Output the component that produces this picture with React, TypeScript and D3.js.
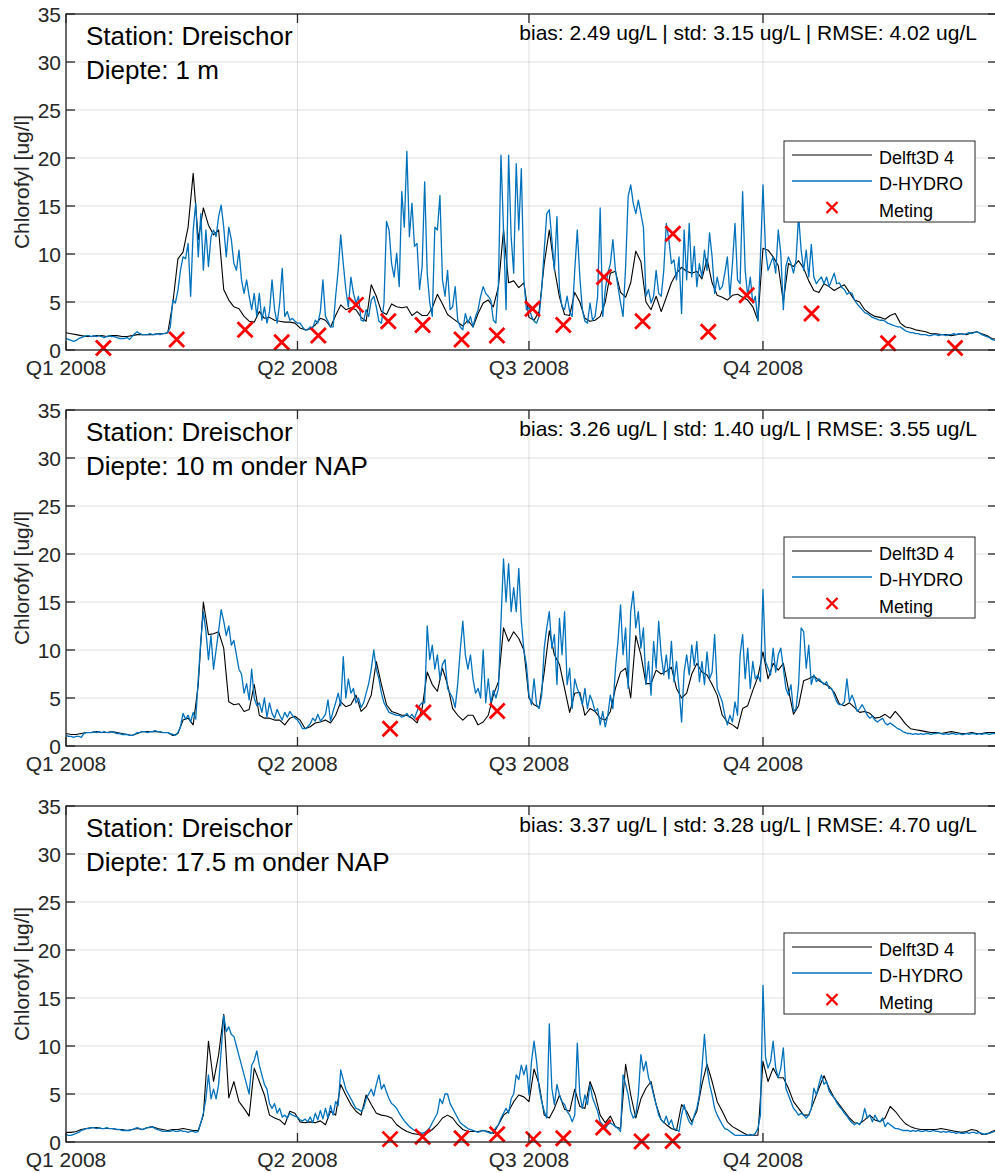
import React from "react";
import * as d3 from "d3";

// ---------- text ----------
const stationLabel = "Station: Dreischor";
const depthLabels = ["Diepte: 1 m", "Diepte: 10 m onder NAP", "Diepte: 17.5 m onder NAP"];
const statLabels = [
  "bias: 2.49 ug/L | std: 3.15 ug/L | RMSE: 4.02 ug/L",
  "bias: 3.26 ug/L | std: 1.40 ug/L | RMSE: 3.55 ug/L",
  "bias: 3.37 ug/L | std: 3.28 ug/L | RMSE: 4.70 ug/L",
];
const yAxisLabel = "Chlorofyl [ug/l]";
const seriesNames = ["Delft3D 4", "D-HYDRO", "Meting"];
const quarterLabels = ["Q1 2008", "Q2 2008", "Q3 2008", "Q4 2008"];
const quarterMonths = [0, 3, 6, 9];
const yTicks = [0, 5, 10, 15, 20, 25, 30, 35];

// ---------- data ----------
// Delft3D 4: one value every 2 days from 2008-01-01 (days 0,2,...,366)
const delft1 = [
  1.8, 1.7, 1.6, 1.5, 1.4, 1.4, 1.5, 1.5, 1.4, 1.5,
  1.5, 1.4, 1.4, 1.5, 1.6, 1.6, 1.6, 1.6, 1.7, 1.7,
  1.8, 4.9, 9.5, 10.2, 12.8, 18.4, 11.5, 14.8, 13.0, 12.0,
  12.5, 6.3, 5.2, 4.5, 4.3, 3.5, 3.0, 2.9, 4.0, 3.3,
  3.4, 3.1, 3.0, 2.9, 2.9, 2.8, 2.3, 2.1, 2.2, 2.6,
  3.3, 3.1, 2.4, 3.6, 4.7, 4.2, 4.4, 4.2, 3.4, 3.0,
  6.8, 5.6, 4.0, 3.7, 4.8, 4.5, 4.4, 4.5, 3.6, 4.0,
  3.6, 3.6, 4.4, 5.8, 4.8, 3.7, 3.3, 2.9, 2.5, 3.1,
  2.4, 3.8, 4.9, 5.2, 4.5, 6.6, 12.5, 7.0, 7.2, 6.5,
  7.0, 3.4, 3.1, 4.0, 9.0, 12.5, 8.5, 5.5, 3.7, 3.6,
  6.0, 5.0, 3.3, 3.0, 3.1, 3.5, 5.0, 8.0, 8.2, 6.0,
  5.5, 7.0, 10.3, 9.2, 5.0, 4.2, 5.6, 4.0, 5.5, 7.0,
  8.0, 8.6, 8.2, 8.0, 8.2, 7.4, 9.5, 7.0, 5.7, 5.5,
  5.2, 5.7, 5.8, 5.5, 5.2, 4.5, 3.1, 10.6, 10.4, 9.7,
  8.8, 5.0, 9.0, 8.7, 9.3, 8.5, 7.2, 6.2, 6.0, 6.9,
  6.6, 6.2, 6.5, 6.8, 6.0, 5.2, 5.0, 4.2, 3.8, 3.5,
  3.4, 3.2, 3.6, 3.8, 2.8, 2.4, 2.3, 2.1, 2.0, 1.9,
  1.7, 1.7, 1.6, 1.6, 1.5, 1.6, 1.7, 1.6, 1.8, 1.9,
  1.7, 1.5, 1.2, 1.1,
];
// D-HYDRO: one value per day from 2008-01-01 (days 0..366)
const dhydro1 = [
  1.2, 1.1, 1.0, 0.9, 1.0, 1.2, 1.3, 1.4, 1.5, 1.5,
  1.4, 1.5, 1.4, 1.5, 1.4, 1.3, 1.4, 1.5, 1.4, 1.4,
  1.3, 1.2, 1.2, 1.2, 1.3, 1.1, 1.4, 1.7, 1.9, 1.7,
  1.6, 1.6, 1.6, 1.7, 1.6, 1.6, 1.7, 1.6, 1.7, 1.7,
  1.8, 2.4, 5.2, 4.9, 6.2, 8.3, 9.7, 9.5, 11.1, 5.6,
  12.5, 15.3, 9.7, 14.2, 8.3, 12.5, 8.7, 11.8, 12.5, 11.8,
  13.9, 15.1, 12.8, 9.7, 12.8, 11.5, 9.0, 8.3, 10.4, 7.3,
  5.9, 7.3, 5.6, 4.2, 5.9, 3.5, 5.9, 3.1, 4.5, 2.8,
  4.0, 7.3, 4.2, 2.8, 4.9, 8.5, 3.5, 4.0, 3.1, 3.3,
  3.0, 2.8, 2.8, 2.4, 2.1, 2.1, 2.4, 2.3, 3.1, 2.8,
  4.0, 7.3, 3.5, 3.0, 2.4, 2.4, 5.6, 8.3, 12.0, 9.0,
  6.3, 4.5, 7.6, 5.9, 4.9, 5.6, 3.1, 3.0, 4.2, 3.5,
  5.2, 5.6, 4.5, 3.0, 2.8, 4.9, 13.4, 12.5, 9.0, 7.6,
  10.1, 6.6, 16.5, 12.8, 20.7, 11.8, 15.3, 10.8, 11.1, 6.3,
  8.7, 17.5, 8.0, 4.9, 3.5, 12.8, 12.5, 16.1, 7.3, 5.6,
  8.3, 4.2, 4.5, 6.6, 3.1, 2.4, 2.1, 3.8, 2.8, 3.5,
  2.4, 3.5, 4.2, 5.6, 6.6, 5.9, 5.6, 5.2, 3.1, 2.8,
  6.9, 20.3, 12.5, 4.2, 20.3, 11.8, 8.0, 19.4, 12.5, 18.9,
  7.3, 4.2, 4.5, 3.5, 3.0, 2.8, 3.5, 6.3, 10.4, 14.2,
  14.6, 11.5, 8.3, 13.9, 6.3, 4.5, 4.2, 5.6, 4.0, 3.5,
  8.3, 12.5, 7.6, 4.2, 3.0, 2.8, 4.9, 3.1, 3.5, 5.6,
  14.8, 3.5, 6.3, 8.0, 9.0, 11.5, 8.3, 6.6, 4.9, 3.5,
  8.7, 16.0, 17.2, 15.3, 14.2, 15.6, 14.2, 12.8, 5.6, 6.3,
  4.9, 5.6, 8.3, 5.9, 5.6, 8.3, 13.2, 11.5, 9.0, 9.4,
  7.3, 9.7, 3.8, 12.5, 7.3, 13.2, 7.6, 10.8, 6.6, 9.0,
  7.6, 10.4, 8.3, 12.2, 9.7, 5.9, 7.6, 6.3, 6.6, 8.0,
  9.7, 5.6, 9.0, 13.2, 7.3, 6.9, 16.5, 8.3, 5.6, 7.6,
  4.9, 5.6, 3.0, 9.7, 17.2, 10.4, 8.3, 9.0, 9.7, 8.0,
  12.5, 10.1, 4.2, 8.7, 9.7, 9.0, 8.0, 9.4, 14.0, 10.4,
  8.3, 10.4, 7.6, 11.0, 7.6, 6.9, 7.3, 7.6, 6.9, 7.6,
  6.6, 7.3, 8.0, 6.9, 7.0, 6.5, 6.3, 5.8, 6.0, 5.9,
  5.2, 4.8, 4.5, 4.2, 3.9, 3.8, 3.6, 3.4, 3.3, 3.2,
  3.1, 3.1, 3.0, 2.8, 2.7, 2.6, 2.5, 2.4, 2.4, 2.2,
  2.0, 1.9, 1.8, 1.8, 1.7, 1.7, 1.6, 1.6, 1.6, 1.5,
  1.5, 1.6, 1.6, 1.5, 1.6, 1.6, 1.5, 1.6, 1.6, 1.7,
  1.6, 1.7, 1.7, 1.6, 1.7, 1.8, 1.7, 1.8, 1.9, 1.8,
  1.6, 1.5, 1.4, 1.3, 1.1, 1.0, 1.0,
];
const metingDays1 = [14.7, 43.5, 70.4, 84.8, 99.2, 114.0, 126.7, 140.2, 155.5, 169.4, 183.4, 195.5, 211.5, 226.7, 238.6, 252.5, 267.6, 293.1, 323.2, 349.5];
const metingVals1 = [0.2, 1.1, 2.1, 0.8, 1.5, 4.7, 3.0, 2.6, 1.1, 1.5, 4.3, 2.6, 7.6, 3.0, 12.1, 1.9, 5.7, 3.8, 0.7, 0.2];

const delft2 = [
  1.3, 1.2, 1.2, 1.3, 1.4, 1.4, 1.5, 1.4, 1.4, 1.5,
  1.4, 1.3, 1.2, 1.1, 1.3, 1.5, 1.5, 1.5, 1.5, 1.4,
  1.4, 1.1, 1.3, 2.7, 2.9, 2.2, 6.4, 15.0, 11.6, 11.7,
  11.9, 10.2, 4.6, 4.3, 4.4, 3.6, 3.8, 6.4, 3.2, 2.9,
  2.9, 2.7, 2.7, 2.2, 2.9, 3.1, 2.7, 1.8, 2.0, 2.4,
  2.5, 2.7, 2.4, 3.2, 4.6, 4.1, 4.3, 5.3, 3.6, 4.1,
  5.3, 8.8, 6.4, 4.3, 3.6, 3.4, 3.2, 3.2, 2.9, 2.4,
  3.9, 7.7, 6.4, 5.7, 8.1, 6.4, 3.9, 3.2, 2.7, 3.2,
  3.2, 2.2, 2.5, 3.2, 5.3, 6.7, 12.3, 10.9, 11.9, 11.2,
  10.0, 5.0, 4.3, 4.0, 7.7, 12.0, 9.5, 8.5, 6.0, 3.5,
  5.5, 5.6, 3.2, 3.9, 3.6, 2.9, 2.7, 3.6, 6.0, 7.7,
  8.1, 5.0, 11.5, 9.5, 6.5, 6.5, 7.9, 7.5, 7.8, 8.2,
  6.0, 5.0, 5.5, 7.5, 8.6, 7.7, 7.4, 6.4, 5.3, 3.2,
  2.5, 2.2, 1.8, 3.9, 4.2, 5.8, 7.2, 9.8, 7.0, 8.6,
  7.9, 8.6, 5.9, 3.3, 4.2, 6.8, 7.0, 7.3, 6.8, 6.5,
  6.2, 5.6, 4.4, 4.2, 4.5, 4.0, 3.5, 3.6, 3.4, 2.9,
  3.0, 3.3, 2.9, 3.6, 3.0, 2.3, 1.8, 1.7, 1.6, 1.5,
  1.4, 1.4, 1.3, 1.4, 1.5, 1.4, 1.3, 1.3, 1.4, 1.3,
  1.3, 1.4, 1.4, 1.4,
];
const dhydro2 = [
  1.1, 1.0, 1.0, 0.9, 1.0, 1.0, 0.9, 1.3, 1.4, 1.4,
  1.4, 1.5, 1.4, 1.5, 1.4, 1.5, 1.4, 1.4, 1.5, 1.4,
  1.3, 1.3, 1.2, 1.2, 1.2, 1.1, 1.1, 1.2, 1.4, 1.4,
  1.5, 1.5, 1.4, 1.5, 1.5, 1.6, 1.5, 1.5, 1.4, 1.4,
  1.4, 1.3, 1.2, 1.1, 1.4, 2.0, 3.4, 2.8, 3.2, 2.5,
  3.5, 2.8, 7.0, 11.0, 14.0, 12.0, 9.0, 11.5, 8.0, 10.0,
  12.0, 14.2, 13.0, 11.5, 12.5, 10.5, 11.0, 9.5, 8.0, 7.5,
  5.5, 6.5, 4.8, 8.0, 5.0, 4.2, 4.5, 3.5, 5.0, 3.0,
  4.5, 3.4, 2.9, 3.8, 3.2, 2.7, 3.5, 3.0, 3.6, 3.2,
  2.9, 2.7, 2.3, 1.8, 1.8, 2.0, 2.3, 2.9, 2.6, 3.3,
  2.6, 2.9, 3.3, 4.8, 2.6, 3.6, 4.5, 5.5, 4.2, 9.3,
  5.0, 7.0, 5.5, 6.0, 4.5, 5.0, 4.0, 4.5, 5.5, 6.5,
  8.0, 10.0, 8.0, 7.0, 5.5, 4.5, 4.0, 3.5, 3.4, 3.3,
  3.2, 3.2, 3.0, 3.1, 3.4, 3.0, 3.3, 2.9, 3.6, 4.2,
  4.5, 4.5, 12.5, 9.0, 10.5, 8.0, 9.5, 7.0, 8.5, 9.0,
  6.0, 5.5, 5.0, 4.0, 6.5, 10.0, 13.0, 9.5, 8.0, 9.5,
  7.0, 5.5, 6.0, 5.0, 10.0, 4.5, 7.0, 4.5, 5.8, 5.0,
  6.0, 13.0, 19.5, 15.0, 19.0, 14.0, 16.5, 14.0, 18.5, 13.0,
  10.0, 8.5, 5.3, 4.3, 7.0, 4.3, 3.9, 5.3, 10.2, 12.3,
  14.0, 10.2, 11.6, 6.4, 13.3, 9.5, 14.0, 6.4, 8.1, 3.9,
  7.0, 6.0, 5.3, 4.3, 6.0, 3.9, 5.3, 4.6, 3.6, 3.9,
  2.2, 3.6, 2.0, 3.2, 5.3, 3.9, 8.1, 10.9, 14.7, 9.5,
  12.3, 6.0, 14.0, 16.1, 12.3, 14.0, 10.2, 12.3, 6.4, 8.8,
  5.3, 10.9, 8.1, 13.0, 9.5, 7.4, 9.5, 7.0, 10.9, 6.7,
  8.8, 6.0, 2.5, 7.7, 9.5, 7.4, 10.5, 8.4, 10.9, 6.7,
  8.8, 6.4, 9.8, 7.0, 7.7, 11.6, 6.0, 5.3, 4.6, 3.2,
  2.2, 3.2, 2.5, 4.6, 3.2, 9.5, 11.6, 7.0, 10.2, 6.0,
  8.8, 7.0, 7.4, 6.7, 16.3, 8.8, 8.1, 7.4, 10.2, 7.7,
  9.5, 10.2, 8.1, 6.0, 5.3, 6.4, 3.6, 3.9, 6.4, 12.3,
  11.9, 8.1, 10.5, 6.4, 7.4, 6.7, 7.0, 6.7, 6.4, 6.7,
  6.0, 6.0, 5.3, 4.6, 4.3, 4.3, 4.6, 7.0, 4.6, 5.3,
  4.6, 3.6, 3.9, 4.3, 3.8, 3.2, 2.9, 3.1, 2.7, 2.5,
  2.7, 2.9, 2.4, 2.2, 2.4, 2.2, 2.0, 1.8, 1.7, 1.5,
  1.4, 1.3, 1.3, 1.2, 1.3, 1.2, 1.3, 1.2, 1.3, 1.3,
  1.2, 1.3, 1.3, 1.4, 1.3, 1.2, 1.3, 1.2, 1.3, 1.3,
  1.2, 1.3, 1.2, 1.2, 1.3, 1.2, 1.3, 1.3, 1.2, 1.3,
  1.2, 1.3, 1.3, 1.2, 1.3, 1.3, 1.3,
];
const metingDays2 = [127.4, 140.5, 169.5];
const metingVals2 = [1.8, 3.5, 3.65];

const delft3 = [
  1.0, 1.0, 1.1, 1.3, 1.4, 1.5, 1.5, 1.4, 1.4, 1.4,
  1.3, 1.3, 1.2, 1.3, 1.4, 1.3, 1.5, 1.6, 1.4, 1.3,
  1.2, 1.3, 1.3, 1.4, 1.3, 1.2, 1.2, 2.8, 10.5, 6.3,
  9.1, 13.3, 4.6, 6.3, 4.2, 3.5, 2.7, 7.7, 6.3, 4.9,
  2.8, 2.5, 2.3, 1.8, 3.2, 3.0, 2.1, 2.0, 2.1, 2.0,
  2.2, 1.8, 3.2, 2.8, 6.0, 4.9, 3.9, 3.2, 2.8, 4.9,
  3.9, 3.0, 2.8, 2.7, 2.5, 1.8, 1.4, 1.1, 0.9, 0.8,
  0.7, 0.9, 1.3, 1.8, 2.5, 2.8, 2.5, 1.8, 1.3, 1.1,
  1.1, 1.1, 1.2, 1.1, 0.9, 1.8, 2.8, 3.2, 4.2, 4.9,
  4.7, 4.2, 7.6, 6.0, 2.8, 2.5, 3.5, 4.9, 3.4, 3.2,
  5.5, 3.7, 3.5, 6.3, 4.9, 2.8, 2.0, 2.7, 1.6, 1.4,
  8.1, 4.9, 2.5, 4.5, 5.6, 6.3, 3.9, 2.3, 1.8, 1.4,
  1.2, 3.9, 3.2, 2.1, 3.2, 6.0, 8.1, 6.3, 4.2, 3.2,
  2.1, 1.6, 1.3, 1.0, 0.7, 0.7, 0.7, 8.4, 6.3, 7.7,
  6.7, 6.7, 5.6, 4.2, 3.5, 2.8, 2.8, 4.2, 5.6, 6.9,
  5.6, 4.6, 3.9, 3.2, 2.5, 2.0, 1.9, 2.3, 2.8, 2.3,
  2.1, 2.5, 3.7, 3.2, 2.5, 1.9, 1.6, 1.4, 1.3, 1.3,
  1.3, 1.3, 1.4, 1.3, 1.2, 1.1, 1.0, 1.1, 1.3, 1.2,
  0.8, 0.8, 1.1, 1.3,
];
const dhydro3 = [
  0.8, 0.7, 0.7, 0.8, 0.9, 1.0, 1.2, 1.3, 1.4, 1.4,
  1.5, 1.5, 1.4, 1.5, 1.4, 1.4, 1.5, 1.4, 1.4, 1.4,
  1.3, 1.3, 1.2, 1.2, 1.2, 1.2, 1.3, 1.4, 1.5, 1.4,
  1.3, 1.4, 1.5, 1.5, 1.6, 1.4, 1.3, 1.2, 1.1, 1.1,
  1.1, 1.1, 1.2, 1.1, 1.1, 1.2, 1.1, 1.1, 1.0, 1.1,
  1.1, 1.0, 1.1, 2.0, 3.0, 4.5, 7.0, 4.5, 5.5, 4.5,
  6.0, 9.5, 13.2, 11.5, 12.0, 11.2, 11.0, 10.0, 9.0, 8.0,
  7.0, 6.0, 5.0, 8.0, 8.5, 9.5, 8.0, 7.0, 6.0, 5.5,
  4.0, 3.5, 4.0, 3.0, 3.5, 2.6, 2.8, 2.5, 3.0, 2.8,
  2.7, 2.6, 2.3, 2.2, 2.4, 2.1, 2.6, 2.0, 3.0, 2.3,
  3.3, 2.4, 3.5, 2.5, 3.8, 2.8, 4.2, 3.8, 7.5, 6.5,
  5.5, 5.0, 4.5, 4.0, 3.5, 3.4, 3.2, 3.5, 4.5, 5.0,
  5.5, 4.8, 6.0, 7.0, 5.5, 6.0, 5.2, 4.5, 4.0, 3.8,
  3.5, 3.0, 2.6, 2.2, 1.9, 1.6, 1.4, 1.2, 1.1, 1.0,
  0.9, 1.0, 1.2, 1.5, 2.0, 2.5, 3.0, 4.5, 4.0, 5.0,
  5.0, 4.0, 3.5, 3.0, 2.5, 2.0, 1.8, 1.6, 1.4, 1.3,
  1.2, 1.1, 1.0, 1.1, 1.2, 1.1, 1.0, 0.9, 1.1, 1.5,
  1.8, 2.5, 3.0, 3.5, 3.0, 4.5, 5.0, 7.0, 6.5, 8.0,
  7.0, 8.0, 4.9, 8.4, 10.5, 8.4, 5.6, 4.2, 3.2, 2.5,
  12.3, 5.6, 3.9, 6.0, 4.9, 4.2, 3.9, 3.2, 2.8, 2.1,
  2.8, 10.3, 4.9, 3.5, 4.9, 3.9, 6.0, 4.6, 3.9, 3.2,
  2.1, 1.8, 1.4, 1.8, 2.0, 1.8, 1.6, 1.4, 1.1, 7.0,
  6.0, 4.9, 3.2, 2.5, 2.8, 4.9, 9.1, 7.4, 8.4, 6.7,
  6.0, 4.9, 3.9, 2.8, 2.3, 2.0, 2.7, 1.8, 2.3, 1.4,
  1.3, 1.1, 2.8, 3.9, 2.8, 2.1, 1.8, 2.8, 3.5, 4.9,
  7.7, 11.2, 7.7, 6.0, 4.9, 3.5, 2.8, 2.3, 1.8, 1.4,
  1.3, 1.1, 0.9, 0.7, 0.7, 0.7, 0.7, 0.7, 0.7, 0.8,
  0.7, 0.9, 1.4, 2.8, 16.3, 8.8, 7.7, 8.4, 10.5, 7.7,
  6.7, 7.7, 9.8, 5.6, 4.9, 4.2, 3.5, 3.2, 2.8, 3.0,
  2.8, 2.5, 2.8, 3.5, 5.6, 4.9, 6.0, 7.0, 6.0, 6.3,
  5.3, 4.9, 4.6, 4.1, 3.7, 3.4, 3.0, 2.7, 2.3, 2.0,
  1.8, 2.0, 1.8, 2.3, 3.5, 2.5, 2.8, 2.1, 2.8, 2.3,
  2.1, 2.5, 1.6, 2.0, 1.8, 1.6, 1.4, 1.4, 1.3, 1.2,
  1.2, 1.2, 1.1, 1.2, 1.1, 1.2, 1.1, 1.1, 1.2, 1.1,
  1.1, 1.2, 1.1, 1.1, 1.0, 1.1, 1.0, 1.1, 1.0, 1.0,
  0.9, 1.0, 0.9, 0.9, 1.0, 0.9, 1.0, 1.0, 0.9, 1.0,
  0.9, 0.8, 0.9, 0.9, 1.0, 1.1, 1.1,
];
const metingDays3 = [127.4, 140.2, 155.5, 169.5, 183.7, 195.5, 211.2, 226.3, 238.5];
const metingVals3 = [0.3, 0.55, 0.4, 0.8, 0.3, 0.4, 1.5, 0.05, 0.1];

// ---------- layout / style ----------
const W = 995;
const H = 1173;
const LEFT = 66;
const RIGHT = 997;
const PANEL_H = 336;
const panelTops = [14, 410, 806];
const FONT = "'Liberation Sans', Arial, Helvetica, sans-serif";
const AXIS_COLOR = "#262626";
const BLUE = "#0072BD";
const RED = "#FF0000";

const DAY_MS = 86400000;
const T0 = Date.UTC(2008, 0, 1);
const dateOf = (d: number) => new Date(T0 + d * DAY_MS);

const x = d3.scaleUtc().domain([dateOf(0), dateOf(366)]).range([LEFT, RIGHT]);
const quarterDates = quarterMonths.map((m) => new Date(Date.UTC(2008, m, 1)));

function Cross({ cx, cy, r, sw }: { cx: number; cy: number; r: number; sw: number }) {
  return (
    <path
      d={`M${cx - r},${cy - r}L${cx + r},${cy + r}M${cx - r},${cy + r}L${cx + r},${cy - r}`}
      stroke={RED}
      strokeWidth={sw}
      fill="none"
    />
  );
}

function Panel({
  idx,
  black,
  blue,
  metDays,
  metVals,
}: {
  idx: number;
  black: number[];
  blue: number[];
  metDays: number[];
  metVals: number[];
}) {
  const top = panelTops[idx];
  const bottom = top + PANEL_H;
  const y = d3.scaleLinear().domain([0, 35]).range([bottom, top]);
  const lineBlack = d3
    .line<number>()
    .x((_, i) => x(dateOf(i * 2)))
    .y((v) => y(v));
  const lineBlue = d3
    .line<number>()
    .x((_, i) => x(dateOf(i)))
    .y((v) => y(v));
  const clipId = `clip${idx}`;
  const legTop = top + 127;
  const rows = [legTop + 14, legTop + 40, legTop + 66.5];
  return (
    <g>
      <defs>
        <clipPath id={clipId}>
          <rect x={LEFT} y={top} width={RIGHT - LEFT} height={PANEL_H} />
        </clipPath>
      </defs>
      <rect x={LEFT} y={top} width={RIGHT - LEFT} height={PANEL_H} fill="#ffffff" />
      {/* grid */}
      {yTicks.map((t) => (
        <line
          key={"gy" + t}
          x1={LEFT}
          x2={RIGHT}
          y1={y(t)}
          y2={y(t)}
          stroke={AXIS_COLOR}
          strokeOpacity={0.15}
          strokeWidth={1}
        />
      ))}
      {quarterDates.map((q, i) => (
        <line
          key={"gx" + i}
          x1={x(q)}
          x2={x(q)}
          y1={top}
          y2={bottom}
          stroke={AXIS_COLOR}
          strokeOpacity={0.15}
          strokeWidth={1}
        />
      ))}
      {/* series */}
      <g clipPath={`url(#${clipId})`}>
        <path d={lineBlack(black) || ""} fill="none" stroke="#000000" strokeWidth={1.1} strokeLinejoin="round" />
        <path d={lineBlue(blue) || ""} fill="none" stroke={BLUE} strokeWidth={1.3} strokeLinejoin="round" />
      </g>
      {metDays.map((d, i) => (
        <Cross key={"m" + i} cx={x(dateOf(d))} cy={y(metVals[i])} r={7.5} sw={2.8} />
      ))}
      {/* axes box */}
      <rect x={LEFT} y={top} width={RIGHT - LEFT} height={PANEL_H} fill="none" stroke={AXIS_COLOR} strokeWidth={1.3} />
      {/* y ticks */}
      {yTicks.map((t) => (
        <g key={"yt" + t}>
          <line x1={LEFT} x2={LEFT + 9} y1={y(t)} y2={y(t)} stroke={AXIS_COLOR} strokeWidth={1.3} />
          <line x1={RIGHT - 9} x2={RIGHT} y1={y(t)} y2={y(t)} stroke={AXIS_COLOR} strokeWidth={1.3} />
          <text
            x={LEFT - 5}
            y={y(t) + 7.5}
            textAnchor="end"
            fontSize={21}
            fontFamily={FONT}
            fill={AXIS_COLOR}
          >
            {t}
          </text>
        </g>
      ))}
      {/* x ticks */}
      {quarterDates.map((q, i) => (
        <g key={"xt" + i}>
          <line x1={x(q)} x2={x(q)} y1={bottom} y2={bottom - 9} stroke={AXIS_COLOR} strokeWidth={1.3} />
          <line x1={x(q)} x2={x(q)} y1={top} y2={top + 9} stroke={AXIS_COLOR} strokeWidth={1.3} />
          <text
            x={x(q)}
            y={bottom + 25}
            textAnchor="middle"
            fontSize={21}
            fontFamily={FONT}
            fill={AXIS_COLOR}
          >
            {quarterLabels[i]}
          </text>
        </g>
      ))}
      {/* y label */}
      <text
        transform={`translate(29,${top + PANEL_H / 2}) rotate(-90)`}
        textAnchor="middle"
        fontSize={21}
        fontFamily={FONT}
        fill={AXIS_COLOR}
      >
        {yAxisLabel}
      </text>
      {/* annotations */}
      <text x={86} y={top + 31} fontSize={26} fontFamily={FONT} fill="#000000">
        {stationLabel}
      </text>
      <text x={86} y={top + 65} fontSize={26} fontFamily={FONT} fill="#000000">
        {depthLabels[idx]}
      </text>
      <text x={977} y={top + 25.5} textAnchor="end" fontSize={21} fontFamily={FONT} fill="#000000">
        {statLabels[idx]}
      </text>
      {/* legend */}
      <rect x={784} y={legTop} width={191} height={81} fill="#ffffff" stroke={AXIS_COLOR} strokeWidth={1} />
      <line x1={792} x2={872} y1={rows[0]} y2={rows[0]} stroke="#000000" strokeWidth={1.1} />
      <line x1={792} x2={872} y1={rows[1]} y2={rows[1]} stroke={BLUE} strokeWidth={1.3} />
      <Cross cx={832} cy={rows[2]} r={5.5} sw={2.4} />
      {seriesNames.map((s, i) => (
        <text key={s} x={879} y={rows[i] + 9.3} fontSize={18} fontFamily={FONT} fill="#000000">
          {s}
        </text>
      ))}
    </g>
  );
}

export default function App() {
  return (
    <div style={{ position: "absolute", left: 0, top: 0, width: W, height: H, background: "#fff" }}>
      <svg width={W} height={H} viewBox={`0 0 ${W} ${H}`} style={{ display: "block" }}>
        <rect x={0} y={0} width={W} height={H} fill="#ffffff" />
        <Panel idx={0} black={delft1} blue={dhydro1} metDays={metingDays1} metVals={metingVals1} />
        <Panel idx={1} black={delft2} blue={dhydro2} metDays={metingDays2} metVals={metingVals2} />
        <Panel idx={2} black={delft3} blue={dhydro3} metDays={metingDays3} metVals={metingVals3} />
      </svg>
    </div>
  );
}
